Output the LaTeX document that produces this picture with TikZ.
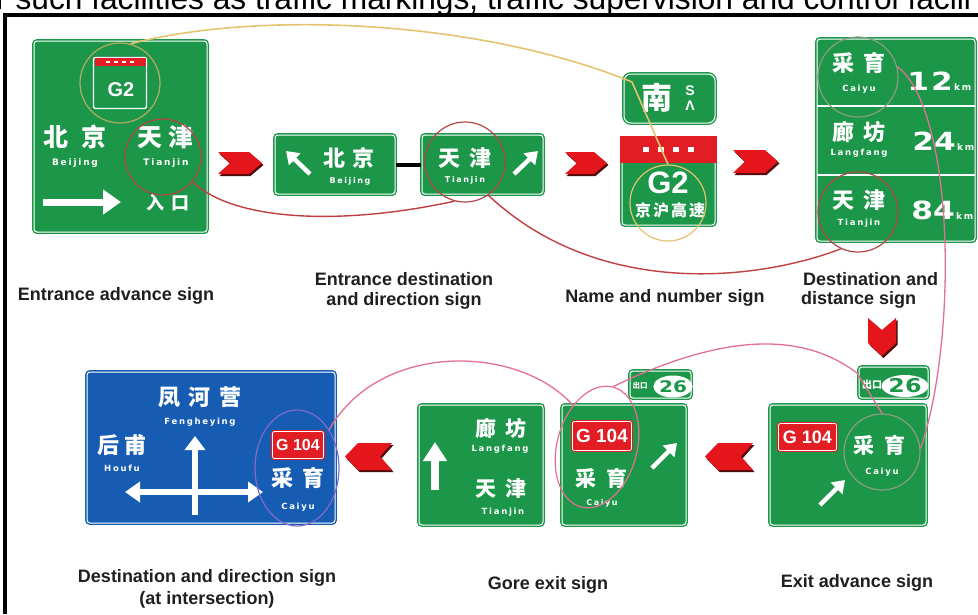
\documentclass[tikz,border=0pt]{standalone}
\usepackage{fontspec}
\usepackage{graphicx}
\setmainfont{Liberation Sans}
\newfontfamily\cjk{Noto Sans CJK SC}
\newfontfamily\sgn{DejaVu Sans}[LetterSpace=20]
\newfontfamily\sgnum{DejaVu Sans}[FakeStretch=1.25]
\usetikzlibrary{arrows.meta,shapes.geometric}
\definecolor{sgreen}{RGB}{28,150,72}
\definecolor{sblue}{RGB}{22,92,178}
\definecolor{sred}{RGB}{226,30,36}
\definecolor{chred}{RGB}{228,22,28}
\definecolor{chdark}{RGB}{80,10,10}
\definecolor{lnred}{RGB}{192,64,64}
\definecolor{lnpink}{RGB}{226,112,146}
\definecolor{lnyel}{RGB}{228,196,112}
\definecolor{lnolive}{RGB}{180,172,100}
\definecolor{lngrey}{RGB}{138,158,128}
\definecolor{lnpurp}{RGB}{128,108,200}
\definecolor{lbrown}{RGB}{178,70,70}
\newcommand\chevR[4]{%
 \fill[chdark] ({#1+1.5},{#2+2}) -- ({#3-11.5},{#2+2}) -- ({#3+1.5},{(#2+#4)/2+2}) -- ({#3-11.5},{#4+2}) -- ({#1+1.5},{#4+2}) -- ({#1+13.5},{(#2+#4)/2+2}) -- cycle;
 \fill[chred] (#1,#2) -- ({#3-13},#2) -- (#3,{(#2+#4)/2}) -- ({#3-13},#4) -- (#1,#4) -- ({#1+12},{(#2+#4)/2}) -- cycle;}
\newcommand\chevL[4]{%
 \fill[chdark] ({#3+1.5},{#2+2}) -- ({#1+14.5},{#2+2}) -- ({#1+1.5},{(#2+#4)/2+2}) -- ({#1+14.5},{#4+2}) -- ({#3+1.5},{#4+2}) -- ({#3-10.5},{(#2+#4)/2+2}) -- cycle;
 \fill[chred] (#3,#2) -- ({#1+13},#2) -- (#1,{(#2+#4)/2}) -- ({#1+13},#4) -- (#3,#4) -- ({#3-12},{(#2+#4)/2}) -- cycle;}
\newcommand\chevD[4]{%
 \fill[chdark] ({#1+1.5},{#2+2}) -- ({(#1+#3)/2+1.5},{#2+14}) -- ({#3+1.5},{#2+2}) -- ({#3+1.5},{#4-11}) -- ({(#1+#3)/2+1.5},{#4+2}) -- ({#1+1.5},{#4-11}) -- cycle;
 \fill[chred] (#1,#2) -- ({(#1+#3)/2},{#2+12}) -- (#3,#2) -- (#3,{#4-13}) -- ({(#1+#3)/2},#4) -- (#1,{#4-13}) -- cycle;}
\begin{document}
\begin{tikzpicture}[x=1pt,y=-1pt,
  gsign/.style={rectangle, rounded corners=3pt, fill=sgreen, draw=sgreen, double=white, double distance=1pt, line width=1.4pt, inner sep=0pt},
  bsign/.style={gsign, fill=sblue, draw=sblue},
  rbox/.style={rectangle, rounded corners=2pt, fill=sred, draw=sred, double=white, double distance=0.8pt, line width=1pt, inner sep=0pt, text=white, font=\bfseries\fontsize{#1pt}{#1pt}\selectfont},
  zh/.style={text=white, inner sep=0pt, font=\cjk\bfseries\fontsize{#1pt}{#1pt}\selectfont},
  lat/.style={text=white, inner sep=0pt, font=\sgn\bfseries\fontsize{#1pt}{#1pt}\selectfont},
  num/.style={text=white, inner sep=0pt, font=\sgnum\bfseries\fontsize{25pt}{25pt}\selectfont},
  kmst/.style={text=white, inner sep=0pt, font=\sgn\bfseries\fontsize{9pt}{9pt}\selectfont},
  oval/.style={ellipse, fill=white, inner sep=0pt, text=sgreen, font=\sgnum\bfseries\fontsize{#1pt}{#1pt}\selectfont},
  ring/.style={circle, draw=#1, line width=1.2pt, inner sep=0pt},
  ering/.style={ellipse, draw=#1, line width=1.2pt, inner sep=0pt},
  warrow/.style={white, line width=#1},
  lbl/.style={inner sep=0pt, text=black!88, font=\bfseries\fontsize{18pt}{20pt}\selectfont},
  ylw/.style={draw=lnyel, line width=1.6pt},
  rdl/.style={draw=lnred, line width=1.4pt},
  pnk/.style={draw=lnpink, line width=1.3pt}]
\useasboundingbox (0,0) rectangle (978,614);
\fill[white] (0,0) rectangle (978,614);
\begin{scope}
\clip (0,0) rectangle (978,614);
\node[anchor=base west, inner sep=0pt, font=\fontsize{31.7pt}{32pt}\selectfont] (toptext) at (-4,9) {r such facilities as traffic markings, traffic supervision and control facili};
\end{scope}
\draw[black, line width=4pt] (5,614) -- (5,15) -- (978,15);

% ---------- Entrance advance sign
\node[gsign, minimum width=173pt, minimum height=191pt] (s1) at (120.5,136.5) {};
\node[rectangle, fill=sgreen, draw=white, line width=1.3pt, rounded corners=2pt, minimum width=53pt, minimum height=51pt, inner sep=0pt] (g2s) at (120,83) {};
\fill[sred] (94.5,58) rectangle (145.5,65.5);
\foreach \dx in {108,116,124,132} \fill[white] ({\dx-2},60.5) rectangle ({\dx+2},63);
\node[text=white, inner sep=0pt, font=\bfseries\fontsize{20pt}{20pt}\selectfont] (g2t) at (121,90) {G2};
\node[zh=25] (s1bj) at (75,137) {北\hspace{13pt}京};
\node[zh=25] (s1tj) at (165,137) {天\hspace{6pt}津};
\node[lat=9] (s1bjl) at (75,163) {Beijing};
\node[lat=9] (s1tjl) at (166,163) {Tianjin};
\node[zh=18] (s1rk) at (168,203) {入\hspace{8pt}口};
\draw[warrow=7pt, -{Triangle[width=24pt,length=18pt]}] (43,202) -- (121,202);

% ---------- Entrance destination and direction sign
\node[gsign, minimum width=120pt, minimum height=59pt] (s2a) at (335,164.5) {};
\node[gsign, minimum width=121pt, minimum height=59pt] (s2b) at (482.5,164.5) {};
\draw[black, line width=4pt] (s2a.east) -- (s2b.west);
\node[zh=22] (s2bj) at (349,158) {北\hspace{8pt}京};
\node[lat=8] (s2bjl) at (350,181) {Beijing};
\node[zh=22] (s2tj) at (465,158) {天\hspace{10pt}津};
\node[lat=8] (s2tjl) at (465,180) {Tianjin};
\draw[warrow=4.5pt, -{Triangle[width=16pt,length=12pt]}] (310,174) -- (286,151);
\draw[warrow=4.5pt, -{Triangle[width=16pt,length=12pt]}] (514,174) -- (538,151);

% ---------- Name and number sign
\node[gsign, rounded corners=7pt, minimum width=91pt, minimum height=49pt] (s3t) at (669.5,98.5) {};
\node[zh=31] (s3n) at (657,98) {南};
\node[text=white, inner sep=0pt, font=\bfseries\fontsize{14pt}{14pt}\selectfont] (s3s) at (690,91) {S};
\node[text=white, inner sep=0pt, font=\bfseries\fontsize{14pt}{14pt}\selectfont] (s3a) at (690,106) {Λ};
\node[gsign, minimum width=93pt, minimum height=87pt] (s3m) at (668.5,181.5) {};
\fill[sred] (620,136) rectangle (717,163);
\foreach \dx in {646,661,676,691} \fill[white] ({\dx-3},146.5) rectangle ({\dx+3},152);
\node[text=white, inner sep=0pt, font=\bfseries\fontsize{31pt}{31pt}\selectfont] (s3g) at (668,183) {G2};
\node[zh=16] (s3jh) at (670,210) {京\hspace{2pt}沪\hspace{2pt}高\hspace{2pt}速};

% ---------- Destination and distance sign
\node[gsign, minimum width=158pt, minimum height=202pt] (s4) at (896,140) {};
\draw[white, line width=1.5pt] (817,106) -- (975,106);
\draw[white, line width=1.5pt] (817,175) -- (975,175);
\node[zh=22] (s4cy) at (859,63) {采\hspace{10pt}育};
\node[lat=8.5] (s4cyl) at (859,89) {Caiyu};
\node[zh=22] (s4lf) at (859,132) {廊\hspace{10pt}坊};
\node[lat=8.5] (s4lfl) at (859,153) {Langfang};
\node[zh=22] (s4tj) at (859,200) {天\hspace{10pt}津};
\node[lat=8.5] (s4tjl) at (859,223) {Tianjin};
\node[num, anchor=base] (n12) at (930,90) {1\hspace{2pt}2};
\node[kmst, anchor=base west] (k12) at ([xshift=1pt]n12.base east) {km};
\node[num, anchor=base] (n24) at (934,150) {24};
\node[kmst, anchor=base west] (k24) at ([xshift=1pt]n24.base east) {km};
\node[num, anchor=base] (n84) at (933,219) {84};
\node[kmst, anchor=base west] (k84) at ([xshift=1pt]n84.base east) {km};

% ---------- Exit advance sign
\node[gsign, minimum width=156pt, minimum height=120pt] (s8) at (848,465) {};
\node[gsign, minimum width=69pt, minimum height=31pt] (s8p) at (893.5,382.5) {};
\node[zh=10] (s8ck) at (872,385) {出口};
\node[oval=19, minimum width=34pt, minimum height=22pt] (s8o) at (905,386) {26};
\node[rbox=18, minimum width=58pt, minimum height=27pt] (s8g) at (807.5,437) {G 104};
\node[zh=21] (s8cy) at (879,445) {采\hspace{10pt}育};
\node[lat=8.5] (s8cyl) at (882,472) {Caiyu};
\draw[warrow=4.5pt, -{Triangle[width=16pt,length=12pt]}] (820,505) -- (845,480);

% ---------- Gore exit sign
\node[gsign, minimum width=124pt, minimum height=120pt] (s6) at (481,465) {};
\node[zh=21] (s6lf) at (501,428) {廊\hspace{10pt}坊};
\node[lat=8.5] (s6lfl) at (500,449) {Langfang};
\node[zh=21] (s6tj) at (501,488) {天\hspace{10pt}津};
\node[lat=8.5] (s6tjl) at (503,512) {Tianjin};
\draw[warrow=8pt, -{Triangle[width=23pt,length=19pt]}] (435,490) -- (435,442);
\node[gsign, minimum width=124pt, minimum height=120pt] (s7) at (624,465) {};
\node[gsign, minimum width=61pt, minimum height=27pt] (s7p) at (660.5,384.5) {};
\node[zh=7.5] (s7ck) at (640,386) {出口};
\node[oval=16, minimum width=30pt, minimum height=22pt] (s7o) at (673,386.5) {26};
\node[rbox=19, minimum width=59pt, minimum height=29pt] (s7g) at (602,436) {G 104};
\node[zh=21] (s7cy) at (601,478) {采\hspace{10pt}育};
\node[lat=8] (s7cyl) at (602,503) {Caiyu};
\draw[warrow=4.5pt, -{Triangle[width=16pt,length=12pt]}] (652,468) -- (677,443);

% ---------- Destination and direction sign (blue)
\node[bsign, minimum width=248pt, minimum height=151pt] (s5) at (211,447.5) {};
\node[zh=22] (s5fh) at (200,397) {凤\hspace{9pt}河\hspace{9pt}营};
\node[lat=8.5] (s5fhl) at (200,422) {Fengheying};
\node[zh=22] (s5hf) at (122,445) {后\hspace{6pt}甫};
\node[lat=8.5] (s5hfl) at (122,468) {Houfu};
\node[rbox=16, minimum width=51pt, minimum height=27pt] (s5g) at (298,445) {G 104};
\node[zh=22] (s5cy) at (298,478) {采\hspace{10pt}育};
\node[lat=8.5] (s5cyl) at (298,507) {Caiyu};
\draw[warrow=6pt, -{Triangle[width=20pt,length=14pt]}] (195,515) -- (195,436);
\draw[warrow=6pt, {Triangle[width=20pt,length=15pt]}-{Triangle[width=20pt,length=15pt]}] (125,492) -- (263,492);

% ---------- chevrons
\chevR{218}{152}{262}{174}
\chevR{565}{152}{607}{174}
\chevR{733}{150}{778}{173}
\chevD{868}{318}{896}{356}
\chevL{705}{443}{753}{470}
\chevL{345}{443}{392}{470}

% ---------- highlight rings
\node[ring=lnolive, minimum size=80pt] (c1) at (120,83) {};
\node[ring=lbrown, minimum size=76pt] (c2) at (163,157) {};
\node[ring=lbrown, minimum size=80pt] (c3) at (465,162) {};
\node[ring=lnyel, minimum size=76pt] (c4) at (668,203) {};
\node[ring=lngrey, minimum size=80pt] (c5) at (858,77) {};
\node[ring=lbrown, minimum size=80pt] (c6) at (858,212) {};
\node[ring=lngrey, minimum size=76pt] (c7) at (882,452) {};
\node[ering=lnpink, minimum width=80pt, minimum height=124pt, rotate=-15] (e1) at (597,447) {};
\node[ering=lnpurp, minimum width=84pt, minimum height=116pt] (e2) at (297,468) {};

% ---------- connectors
\coordinate (ybend) at (632,82);
\coordinate (pk1) at (857,373);
\draw[ylw] (c1.75) .. controls (260,10) and (480,20) .. (ybend) -- (c4.north);
\draw[rdl] (c2.-40) .. controls (230,218) and (330,228) .. (c3.-105);
\draw[rdl] (c3.-55) .. controls (600,300) and (760,280) .. (c6.-115);
\draw[pnk] (c5.15) .. controls (955,110) and (958,340) .. (c7.5);
\draw[pnk] (c7.north) -- (pk1) .. controls (800,330) and (720,335) .. (e1.north);
\draw[pnk] (e1.135) .. controls (520,345) and (380,340) .. (e2.50);

% ---------- labels
\node[lbl] (l1) at (116,296) {Entrance advance sign};
\node[lbl] (l2a) at (404,279) {Entrance destination};
\node[lbl] (l2b) at (404,301) {and direction sign};
\node[lbl] (l3) at (665,298) {Name and number sign};
\node[lbl, anchor=west] (l4a) at (803,279) {Destination and};
\node[lbl, anchor=west] (l4b) at (801,300) {distance sign};
\node[lbl] (l5a) at (207,578) {Destination and direction sign};
\node[lbl] (l5b) at (207,600) {(at intersection)};
\node[lbl] (l6) at (548,585) {Gore exit sign};
\node[lbl] (l7) at (857,583) {Exit advance sign};
\end{tikzpicture}
\end{document}
